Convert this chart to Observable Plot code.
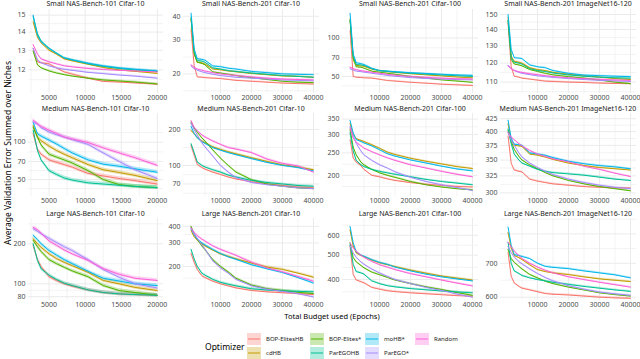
<!DOCTYPE html>
<html><head><meta charset="utf-8">
<script src="https://cdn.jsdelivr.net/npm/d3@7"></script>
<script src="https://cdn.jsdelivr.net/npm/@observablehq/plot@0.6"></script>
<style>
body{margin:0;background:#fff;}
#chart{position:relative;width:640px;height:359px;overflow:hidden;background:#fff;font-family:"Noto Sans",sans-serif;}
.abs{position:absolute;white-space:nowrap;}
</style></head><body><div id="chart"></div><script>
// ---------------- data ----------------
const optimizers = ["BOP-ElitesHB","cdHB","BOP-Elites*","ParEGOHB","moHB*","ParEGO*","Random"];
const colors = ["#F8766D","#C49A00","#53B400","#00C094","#00B6EB","#A58AFF","#FB61D7"];
const budget101 = [2800,3400,3900,5000,6000,7100,8200,10400,12500,14700,16900,20000];
const budget201 = [500,1500,2500,4000,5000,7500,10000,12500,15000,20000,25000,30000,35000,40000];
const panelTitles = ["Small NAS-Bench-101 Cifar-10","Small NAS-Bench-201 Cifar-10","Small NAS-Bench-201 Cifar-100","Small NAS-Bench-201 ImageNet16-120",
 "Medium NAS-Bench-101 Cifar-10","Medium NAS-Bench-201 Cifar-10","Medium NAS-Bench-201 Cifar-100","Medium NAS-Bench-201 ImageNet16-120",
 "Large NAS-Bench-101 Cifar-10","Large NAS-Bench-201 Cifar-10","Large NAS-Bench-201 Cifar-100","Large NAS-Bench-201 ImageNet16-120"];
const yTickValues = [[12,13,14,15],[20,30,40],[50,70,100],[110,120,130,140,150],
 [50,70,100],[70,100,200],[200,250,300,350],[300,325,350,375,400,425],
 [80,100,200],[200,300,400],[400,500,600],[600,700,800]];
const xTickValues101 = [5000,10000,15000,20000];
const xTickValues201 = [10000,20000,30000,40000];
// rows: BOP-ElitesHB, cdHB, BOP-Elites*, ParEGOHB, moHB*, ParEGO*, Random
const small101c10 = [
 [13.1,12.4,12.35,12.3,12.1,11.9,11.8,11.6,11.45,11.42,11.38,11.32],
 [14.6,13.7,13.4,13.0,12.8,12.55,12.45,12.28,12.12,12.0,11.93,11.83],
 [12.95,12.25,12.1,11.95,11.85,11.77,11.7,11.6,11.52,11.47,11.42,11.33],
 [14.9,13.9,13.5,13.1,12.85,12.6,12.5,12.3,12.17,12.07,12.0,11.93],
 [15.0,13.8,13.45,13.1,12.85,12.6,12.5,12.33,12.2,12.1,12.03,11.95],
 [13.1,12.5,12.35,12.2,12.1,12.03,11.98,11.88,11.82,11.75,11.7,11.6],
 [13.3,12.8,12.55,12.4,12.3,12.2,12.15,12.07,12.02,11.98,11.95,11.9]];
const small201c10 = [
 [34,22,19.3,19.2,19.1,19.0,18.9,18.7,18.5,18.3,18.1,17.9,17.8,17.7],
 [38.5,25.5,23,22.8,22.5,21.2,21.0,20.7,20.5,20.1,19.8,19.5,19.4,19.2],
 [39,25.5,23,22.7,22.3,20.5,20.2,19.9,19.6,19.1,18.7,18.3,18.1,18.0],
 [39.5,26,23.5,23.3,23,21.5,21.2,20.8,20.6,20.2,19.9,19.6,19.4,19.2],
 [41.5,27,24,23.8,23.6,22.0,21.8,21.4,21.2,20.6,20.3,20.0,19.9,19.8],
 [22.0,21.3,20.9,20.5,20.3,19.9,19.6,19.4,19.2,19.0,18.8,18.6,18.5,18.4],
 [22.3,21.6,21.2,20.9,20.7,20.3,20.0,19.8,19.6,19.3,19.0,18.8,18.7,18.6]];
const small201c100 = [
 [114,50,49.3,49,48.8,48.5,47.5,46.5,46,45,44.3,43.5,43,42.5],
 [141,70,61,60.5,60,57,55.5,54.5,53.8,52.5,51.5,50.5,49.5,48.8],
 [137,68,59.5,59,58,55,54,53,52,50,48.5,47,46,45],
 [138,72,62,61.5,61,57.5,55.5,54.8,54,53,52.2,51.4,50.7,50],
 [156,75,64,63,62,58,55.5,55,54.5,53.5,52.8,52,51.4,51],
 [57.4,56,55,54.5,54,53,52,51,50.2,49,48.2,47.7,47.3,47],
 [59,57.5,56.5,55.5,55,54,53,52,51.2,50,49.2,48.5,48,47.7]];
const small201in16 = [
 [144,118,113,112.5,112,111.5,111,110.5,110.3,110,109.8,109.5,109.3,109.2],
 [148,124,121,120.5,120,117.5,116.5,116,115,114,113.2,112.5,111.8,111.3],
 [146,122,119.5,119,118.5,116.5,115.5,114.5,113.7,112.8,112,111,110,109.2],
 [146,123,120.5,120,119.5,117,116,115.5,114.7,113.7,113,112.5,112.2,112],
 [150,128,123,122.8,122.5,119,118,117.5,116,114.5,113.6,113.3,113,112.8],
 [118.8,117,116,115,114.5,113.8,113.2,112.8,112.4,111.8,111.3,110.9,110.6,110.3],
 [118.4,117,116,115.3,115,114.3,113.8,113.3,112.8,112.2,111.8,111.4,111.1,110.9]];
const medium101c10 = [
 [117,88,80,72,69,66,63,56,53.5,51,49,46],
 [136,110,103,93,86,80,75,66,60,57,54,49],
 [132,110,95,80,76,72,68,59,50,45.5,44,43],
 [125,86,72,59,55,51.5,49.5,47,46,45,44,43],
 [145,117,112,104,97,89,82,72,66.5,64,61,57.3],
 [145,140,131,121,115,110,105,96,82,70,60,51],
 [150,141,134,125,118,110,106,99.5,90,82,75,65]];
const medium201c10 = [
 [147,122,102,96,93,88,84,80,77,73,70,68,66,65],
 [196,184,172,160,155,143,136,130,125,116,108,101,97,92],
 [230,205,190,170,160,135,115,100,88,76,70,67,65,64],
 [152,128,107,100,97,92,88,83,80,75,72,70,68,67],
 [212,185,170,158,153,141,134,128,123,114,106,100,96,90],
 [225,200,180,155,143,120,100,88,79,72,69,67,65,64],
 [237,209,195,180,173,160,150,141,137,128,113,104,99,88]];
const medium201c100 = [
 [285,238,228,220,212,200,197,193,190,186,183,181,179,178],
 [335,300,288,283,280,271,262,252,246,237,230,224,218,214],
 [315,265,245,228,222,212,205,200,196,188,182,178,175,173],
 [305,255,232,222,218,212,208,205,202,197,192,188,185,182],
 [345,305,285,280,276,268,258,248,242,233,226,219,213,209],
 [325,295,275,255,245,232,222,215,207,196,188,182,177,172],
 [320,290,278,268,262,253,245,238,232,222,215,208,202,197]];
const medium201in16 = [
 [392,345,334,332,331,320,317,315,313,311,309,308,307,307],
 [415,385,375,374,373,360,358,355,351,345,341,338,336,334],
 [402,382,368,356,350,342,336,330,325,318,313,309,306,303],
 [405,378,360,350,345,340,335,332,330,328,326,323,320,318],
 [422,388,377,376,375,362,360,358,354,348,344,341,339,336],
 [398,385,375,362,355,345,338,332,327,320,315,311,308,306],
 [398,390,385,378,374,366,360,356,352,347,340,335,329,324]];
const large101c10 = [
 [194,153,135,113,106,100,96,90,86,84,83,82],
 [218,200,188,168,155,145,137,122,106,100,94,89],
 [212,190,175,152,142,133,125,113,97,89,86,82],
 [200,150,130,116,108,101,97,90,86,84,83,82],
 [231,215,200,178,165,152,142,124,110,105,100,97],
 [259,248,238,220,205,190,178,152,128,112,100,93],
 [266,255,240,210,195,180,168,150,130,118,110,106]];
const large201c10 = [
 [250,215,190,170,165,155,148,143,138,132,129,127,125,123],
 [372,335,315,295,285,265,248,238,228,212,198,190,178,166],
 [400,350,320,285,268,225,200,182,163,145,136,132,128,125],
 [268,228,200,178,172,160,152,147,143,136,133,131,130,129],
 [385,345,320,300,290,268,250,236,226,206,192,180,165,150],
 [385,350,325,290,270,220,195,178,160,143,135,130,125,118],
 [390,360,340,320,310,285,268,255,242,215,195,182,168,155]];
const large201c100 = [
 [540,420,398,392,388,372,366,361,358,354,351,348,345,343],
 [630,545,510,498,493,478,466,458,450,436,424,413,405,398],
 [560,490,470,455,445,428,418,408,398,385,374,365,355,346],
 [550,460,430,425,420,395,385,378,374,368,364,360,357,354],
 [650,560,515,500,495,480,468,460,448,433,420,410,402,395],
 [545,510,490,470,460,440,425,412,400,385,372,362,350,340],
 [560,535,518,500,490,472,458,448,438,422,410,398,387,377]];
const large201in16 = [
 [735,660,640,630,625,620,615,610,608,606,603,600,598,597],
 [805,750,725,718,712,695,680,674,670,665,658,652,648,644],
 [745,715,703,690,682,665,655,645,638,628,620,612,607,603],
 [770,700,676,668,662,655,650,646,642,636,630,625,620,616],
 [825,760,728,725,722,715,700,690,687,683,676,670,664,655],
 [755,735,720,705,698,682,668,656,646,632,622,614,609,605],
 [770,755,740,725,715,700,688,678,670,658,650,642,635,628]];
// half-width of the shaded band, relative to the value, per panel
const ribbonHalfWidth = [0.004,0.008,0.01,0.003,0.035,0.02,0.008,0.004,0.03,0.02,0.008,0.004];
const panelData = [small101c10,small201c10,small201c100,small201in16,medium101c10,medium201c10,medium201c100,medium201in16,large101c10,large201c10,large201c100,large201in16];

// ---------------- layout ----------------
const FONT = "'Noto Sans', sans-serif";
const colFrames = [[28,163],[183,319],[342,478],[500,636]];
const rowFrames = [[9,93],[113,196],[218,300]];
const titleY = [3,107.5,213];
const xDomains = [[2150,20850],[-1950,41950],[-1950,41950],[-1950,41950]];
const yDomains = [[10.9,15.35],[15.8,43.4],[36.8,167],[104.4,153.5],
 [36.5,170.5],[55,272],[162,370],[295,435.5],
 [74.9,310],[111,458],[330,700],[591,858]];

const chart = document.getElementById("chart");
function addText(txt, x, y, size, color, anchor, rotate){
  const d = document.createElement("div");
  d.className = "abs";
  d.textContent = txt;
  d.style.fontSize = size + "px";
  d.style.color = color;
  d.style.lineHeight = "1";
  d.style.left = x + "px"; d.style.top = y + "px";
  let tr = anchor === "middle" ? "translate(-50%,-50%)" : "translate(0,-50%)";
  if (rotate) tr += " rotate(" + rotate + "deg)";
  d.style.transform = tr;
  chart.appendChild(d);
  return d;
}
function minorLog(ticks, dom){
  const out = [];
  const t = ticks.slice().sort((a,b)=>a-b);
  for (let i=0;i<t.length-1;i++) out.push(Math.sqrt(t[i]*t[i+1]));
  out.push(t[0]/Math.sqrt(t[1]/t[0]));
  out.push(t[t.length-1]*Math.sqrt(t[t.length-1]/t[t.length-2]));
  return out.filter(v=>v>dom[0]&&v<dom[1]);
}

panelData.forEach((data, p) => {
  const col = p % 4, row = Math.floor(p / 4);
  const [fx0, fx1] = colFrames[col];
  const [fy0, fy1] = rowFrames[row];
  const budget = col === 0 ? budget101 : budget201;
  const xTicks = col === 0 ? xTickValues101 : xTickValues201;
  const xDom = xDomains[col];
  const xMinor = xTicks.map(t => t - (xTicks[1]-xTicks[0])/2).filter(v => v > xDom[0]);
  const yDom = yDomains[p];
  const yTicks = yTickValues[p];
  const bw = ribbonHalfWidth[p];
  const rows = [];
  optimizers.forEach((o, i) => data[i].forEach((v, j) => rows.push({opt:o, budget:budget[j], value:v, lo:v*(1-bw), hi:v*(1+bw)})));
  const mL = 30, mR = 4, mT = 2, mB = 12;
  const plot = Plot.plot({
    width: fx1 - fx0 + mL + mR, height: fy1 - fy0 + mT + mB,
    marginLeft: mL, marginRight: mR, marginTop: mT, marginBottom: mB,
    x: {domain: xDom},
    y: {type: "log", domain: yDom},
    color: {domain: optimizers, range: colors},
    style: {fontFamily: FONT, fontSize: "7px", color: "#4d4d4d", background: "transparent", overflow: "visible"},
    marks: [
      Plot.ruleY(minorLog(yTicks, yDom), {stroke: "#ebebeb", strokeWidth: 0.6}),
      Plot.ruleX(xMinor, {stroke: "#ebebeb", strokeWidth: 0.6}),
      Plot.ruleY(yTicks, {stroke: "#ebebeb", strokeWidth: 1}),
      Plot.ruleX(xTicks, {stroke: "#ebebeb", strokeWidth: 1}),
      Plot.areaY(rows, {x: "budget", y1: "lo", y2: "hi", z: "opt", fill: "opt", fillOpacity: 0.3}),
      Plot.lineY(rows, {x: "budget", y: "value", z: "opt", stroke: "opt", strokeWidth: 1}),
      Plot.axisX({ticks: xTicks, tickSize: 0, tickPadding: 2, tickFormat: d => String(d), label: null}),
      Plot.axisY({ticks: yTicks, tickSize: 0, tickPadding: 3, tickFormat: d => String(d), label: null})
    ]
  });
  const holder = document.createElement("div");
  holder.className = "abs";
  holder.style.left = (fx0 - mL) + "px";
  holder.style.top = (fy0 - mT) + "px";
  holder.appendChild(plot);
  chart.appendChild(holder);
  addText(panelTitles[p], (fx0 + fx1) / 2, titleY[row], 7, "#1a1a1a", "middle");
});

// axis titles
addText("Total Budget used (Epochs)", 332, 317, 7.5, "#000", "middle");
addText("Average Validation Error Summed over Niches", 8, 153, 8.5, "#000", "middle", -90);

// legend
addText("Optimizer", 205, 347, 8.5, "#000", "left");
const legendCols = [247, 310, 365, 415];
const legendRows = [339, 352.5];
optimizers.forEach((o, i) => {
  const c = Math.floor(i / 2), r = i % 2;
  const x = legendCols[c], y = legendRows[r];
  const svg = document.createElementNS("http://www.w3.org/2000/svg", "svg");
  svg.setAttribute("width", 14); svg.setAttribute("height", 12);
  svg.style.position = "absolute"; svg.style.left = x + "px"; svg.style.top = (y - 6) + "px";
  svg.innerHTML = `<rect x="0" y="0" width="14" height="12" fill="${colors[i]}" fill-opacity="0.3"></rect><line x1="1" x2="13" y1="6" y2="6" stroke="${colors[i]}" stroke-width="1"></line>`;
  chart.appendChild(svg);
  addText(o, x + 19, y, 6, "#1a1a1a", "left");
});
</script></body></html>
